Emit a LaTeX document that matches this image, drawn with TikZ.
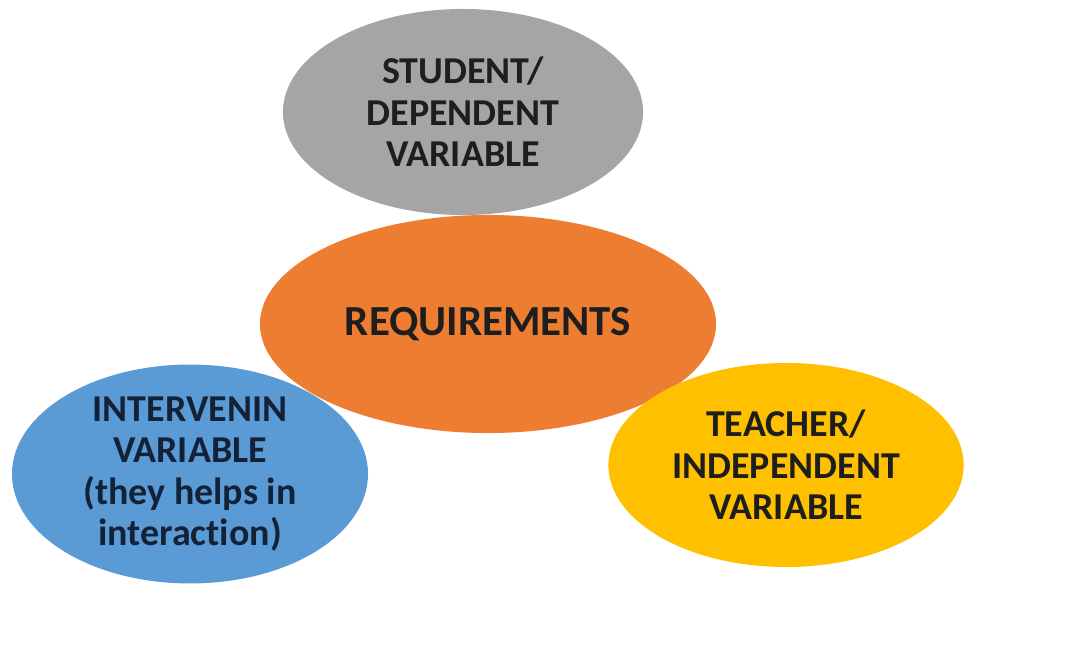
\documentclass[tikz,border=0pt]{standalone}
\usepackage{fontspec}
\setmainfont{Carlito}[Ligatures=NoCommon]
\usetikzlibrary{shapes.geometric}

\definecolor{blobgray}{HTML}{A5A5A5}
\definecolor{bloborange}{HTML}{ED7D31}
\definecolor{blobblue}{HTML}{5B9BD5}
\definecolor{blobyellow}{HTML}{FFC000}
\definecolor{textdark}{HTML}{1E1E1E}
\definecolor{textnavy}{HTML}{142238}

\tikzset{
  blob/.style={ellipse, inner sep=0pt, align=center, text=textdark,
    font=\bfseries\fontsize{27}{29.5}\selectfont},
}

\begin{document}
\begin{tikzpicture}[x=0.025cm,y=-0.025cm]
      \useasboundingbox (0,0) rectangle (1072,650);

      \node[blob, fill=blobgray, minimum width=9cm, minimum height=5.15cm]
        (student) at (463,112) {STUDENT/\\DEPENDENT\\VARIABLE};
      \node[blob, fill=bloborange, minimum width=11.4cm, minimum height=5.45cm,
        font=\bfseries\fontsize{30.5}{34}\selectfont]
        (req) at (488,324) {REQUIREMENTS};
      \node[blob, fill=blobblue, text=textnavy, minimum width=8.9cm, minimum height=5.12cm]
        (interv) at (190,474) {INTERVENIN\\VARIABLE\\(they helps in\\interaction)};
      \node[blob, fill=blobyellow, minimum width=8.88cm, minimum height=5.1cm]
        (teacher) at (786,465) {TEACHER/\\INDEPENDENT\\VARIABLE};
    \end{tikzpicture}
\end{document}
